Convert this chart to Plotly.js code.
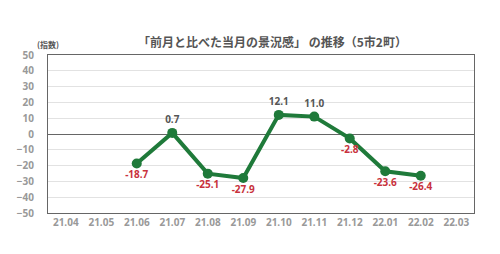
<!DOCTYPE html>
<html><head><meta charset="utf-8">
<script src="https://cdn.plot.ly/plotly-3.0.1.min.js"></script>
<style>html,body{margin:0;padding:0;background:#fff;}#chart{width:500px;height:254px;}</style>
</head><body><div id="chart"></div>
<script>
const categories = ["21.04","21.05","21.06","21.07","21.08","21.09","21.10","21.11","21.12","22.01","22.02","22.03"];
const seriesCats = ["21.06","21.07","21.08","21.09","21.10","21.11","21.12","22.01","22.02"];
const values = [-18.7, 0.7, -25.1, -27.9, 12.1, 11.0, -2.8, -23.6, -26.4];
const labels = values.map(v => v.toFixed(1));

const trace = {
  x: seriesCats, y: values, type: 'scatter', mode: 'lines+markers+text',
  line: {color: '#1f7a3a', width: 4},
  marker: {color: '#1f7a3a', size: 10},
  text: labels,
  textposition: values.map(v => v >= 0 ? 'top center' : 'bottom center'),
  textfont: {family: 'Noto Sans, sans-serif', size: 10, weight: 'bold', color: values.map(v => v >= 0 ? '#555' : '#c8323c')},
  cliponaxis: false, hoverinfo: 'none'
};
const layout = {
  width: 500, height: 254,
  margin: {l: 48, r: 26, t: 55, b: 41},
  paper_bgcolor: '#fff', plot_bgcolor: '#fff',
  showlegend: false,
  title: {text: '「前月と比べた当月の景況感」 の推移（5市2町）', x: 0.545, xanchor: 'center', y: 0.83, yanchor: 'middle',
    font: {family: 'Noto Sans CJK JP, sans-serif', size: 12, weight: 'bold', color: '#555'}},
  xaxis: {type: 'category', categoryarray: categories, categoryorder: 'array', range: [-0.5, 11.5],
    showgrid: false, showline: true, mirror: true, linecolor: '#666', linewidth: 1, ticks: '',
    tickfont: {family: 'Noto Sans, sans-serif', size: 10, weight: 'bold', color: '#999'}, fixedrange: true},
  yaxis: {range: [-50, 50], dtick: 10, showgrid: true, gridcolor: '#e2e2e2', gridwidth: 1,
    zeroline: true, zerolinecolor: '#666', zerolinewidth: 1,
    showline: true, mirror: true, linecolor: '#666', linewidth: 1, ticks: '', ticklabelstandoff: 11,
    tickfont: {family: 'Noto Sans, sans-serif', size: 10, weight: 'bold', color: '#999'}, fixedrange: true},
  annotations: [{text: '(指数)', xref: 'paper', yref: 'paper', x: 0, y: 1.065, xanchor: 'center', yanchor: 'middle',
    showarrow: false, font: {family: 'Noto Sans CJK JP, sans-serif', size: 8, weight: 'bold', color: '#555'}}]
};
Plotly.newPlot('chart', [trace], layout, {staticPlot: true});
</script></body></html>
